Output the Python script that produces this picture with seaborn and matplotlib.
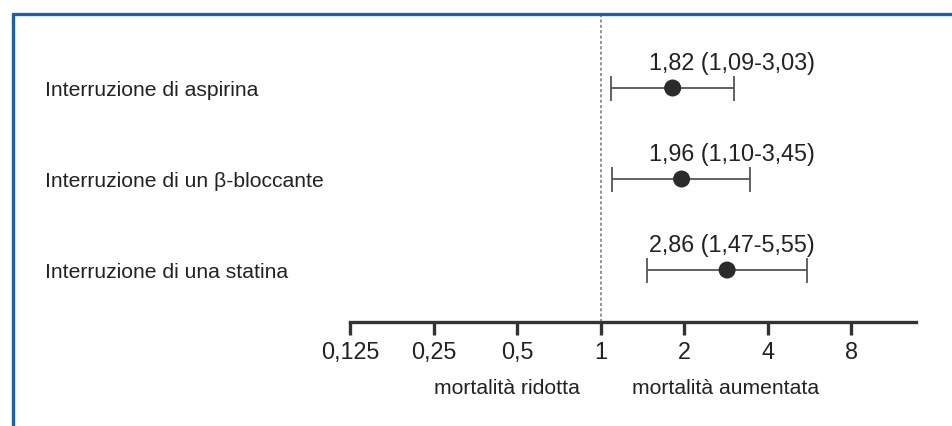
import matplotlib
matplotlib.use("Agg")
import matplotlib.pyplot as plt
from matplotlib.lines import Line2D
from matplotlib.transforms import blended_transform_factory
import seaborn as sns
import pandas as pd

# data
labels = ["Interruzione di aspirina",
          "Interruzione di un β-bloccante",
          "Interruzione di una statina"]
hr = [1.82, 1.96, 2.86]
ci_low = [1.09, 1.10, 1.47]
ci_high = [3.03, 3.45, 5.55]
tick_values = [0.125, 0.25, 0.5, 1, 2, 4, 8]
tick_labels = ["0,125", "0,25", "0,5", "1", "2", "4", "8"]

df = pd.DataFrame({"label": labels, "hr": hr, "lo": ci_low, "hi": ci_high})
df["row"] = range(len(df))
df["text"] = [f"{h:.2f} ({l:.2f}-{u:.2f})".replace(".", ",")
              for h, l, u in zip(df.hr, df.lo, df.hi)]

sns.set_theme(style="white")
plt.rcParams['font.family'] = ['Liberation Sans', 'DejaVu Sans']
txt_color = "#222222"
fs_num = 16.8   # numbers: estimates and ticks
fs_lab = 15.2   # row labels and captions

W, H = 952, 426
fig = plt.figure(figsize=(W / 100, H / 100), dpi=100)
ax = fig.add_axes([350 / W, (H - 322) / H, 566 / W, 308 / H])

# confidence intervals
ax.errorbar(df.hr, df.row,
            xerr=[df.hr - df.lo, df.hi - df.hr],
            fmt="none", ecolor="#555555", elinewidth=1.3,
            capsize=9, capthick=1.3, zorder=2)
sns.scatterplot(data=df, x="hr", y="row", ax=ax, s=150,
                color="#2b2b2b", edgecolor="none", zorder=3, legend=False)

ax.axvline(1, color="#777777", linestyle=(0, (2, 1.5)), linewidth=1.1, zorder=1)

ax.set_xscale("log", base=2)
ax.set_xlim(0.125, 2 ** 3.778)
ax.set_ylim(2.571, -0.813)
ax.set_xticks(tick_values)
ax.set_xticklabels(tick_labels, fontsize=fs_num, color=txt_color)
ax.minorticks_off()
ax.set_yticks([])
ax.set_xlabel("")
ax.set_ylabel("")

for s in ["top", "right", "left"]:
    ax.spines[s].set_visible(False)
ax.spines["bottom"].set_color("#333333")
ax.spines["bottom"].set_linewidth(2.4)
ax.tick_params(axis="x", direction="out", length=9, width=2.4,
               color="#333333", pad=5, bottom=True)

# row labels and estimates
label_tr = blended_transform_factory(fig.transFigure, ax.transData)
for _, r in df.iterrows():
    ax.text(45 / W, r.row + 0.03, r.label, transform=label_tr,
            fontsize=fs_lab, color=txt_color, va="center", ha="left")
    ax.text(2 ** 0.575, r.row - 0.27, r.text, fontsize=fs_num,
            color=txt_color, va="center", ha="left")

# side captions
fig.text(580 / W, 1 - 388 / H, "mortalità ridotta", ha="right", va="center",
         fontsize=fs_lab, color=txt_color)
fig.text(632 / W, 1 - 388 / H, "mortalità aumentata", ha="left", va="center",
         fontsize=fs_lab, color=txt_color)

# blue frame (top and left)
frame_c = "#1a62a3"
fig.add_artist(Line2D([13 / W, 1], [1 - 13.5 / H, 1 - 13.5 / H],
                      transform=fig.transFigure, color=frame_c, linewidth=2.4))
fig.add_artist(Line2D([13 / W, 13 / W], [0, 1 - 13.5 / H],
                      transform=fig.transFigure, color=frame_c, linewidth=2.4))

fig.savefig("out.png", dpi=100, facecolor="white")
